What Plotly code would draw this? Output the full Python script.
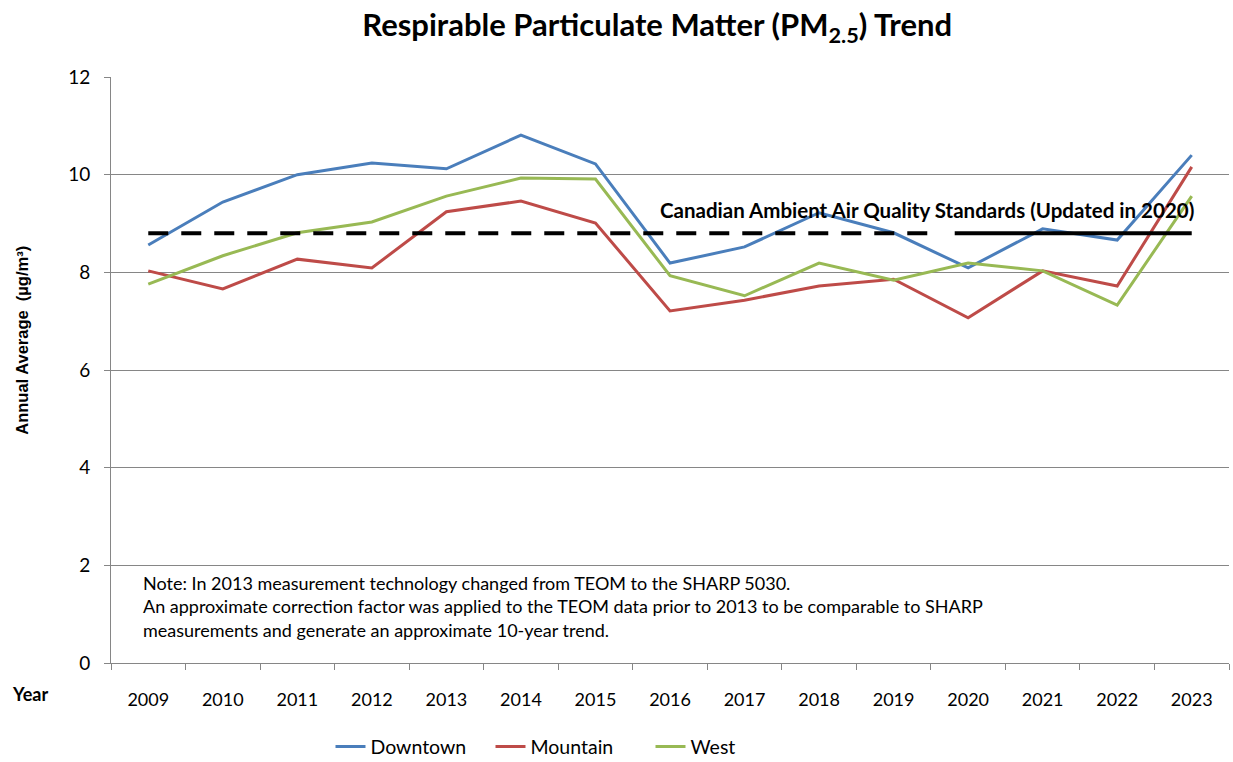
import plotly.graph_objects as go

years = list(range(2009, 2024))
downtown = [8.56, 9.44, 10.0, 10.24, 10.12, 10.81, 10.22, 8.19, 8.52, 9.22, 8.81, 8.09, 8.89, 8.66, 10.4]
mountain = [8.03, 7.66, 8.27, 8.09, 9.24, 9.46, 9.01, 7.21, 7.43, 7.72, 7.86, 7.07, 8.03, 7.72, 10.16]
west = [7.76, 8.34, 8.81, 9.03, 9.56, 9.93, 9.91, 7.93, 7.52, 8.19, 7.84, 8.19, 8.03, 7.33, 9.56]
series_names = ["Downtown", "Mountain", "West"]
series_colors = ["#4A7EBB", "#BE4B48", "#98B954"]

standard_value = 8.8
standard_dashed_x = [2009, 2019.6]
standard_solid_x = [2019.82, 2023]
standard_label = "Canadian Ambient Air Quality Standards (Updated in 2020)"
note_text = ("Note: In 2013 measurement technology changed from TEOM to the SHARP 5030.<br>"
             "An approximate correction factor was applied to the TEOM data prior to 2013 to be comparable to SHARP<br>"
             "measurements and generate an approximate 10-year trend.")

FONT = "Lato"

fig = go.Figure()
for name, vals, col in zip(series_names, [downtown, mountain, west], series_colors):
    fig.add_trace(go.Scatter(x=years, y=vals, mode="lines", name=name,
                             line=dict(color=col, width=3)))

fig.add_trace(go.Scatter(x=standard_dashed_x, y=[standard_value] * 2, mode="lines",
                         line=dict(color="black", width=4, dash="20px,13px"),
                         showlegend=False, hoverinfo="skip"))
fig.add_trace(go.Scatter(x=standard_solid_x, y=[standard_value] * 2, mode="lines",
                         line=dict(color="black", width=4),
                         showlegend=False, hoverinfo="skip"))

fig.add_annotation(x=2019.45, y=9.28, xref="x", yref="y", text="<b>" + standard_label + "</b>",
                   showarrow=False, font=dict(family=FONT, size=20.5, color="black"))
fig.add_annotation(x=2008.906, y=1.9, xref="x", yref="y", text=note_text, showarrow=False,
                   xanchor="left", yanchor="top", align="left",
                   font=dict(family=FONT, size=18, color="black"))
fig.add_annotation(x=-0.0725, y=-0.053, xref="paper", yref="paper", text="<b>Year</b>",
                   xanchor="center", yanchor="middle",
                   showarrow=False, font=dict(family=FONT, size=18, color="black"))
fig.add_annotation(x=-0.0796, y=0.55, xref="paper", yref="paper",
                   text="<b>Annual Average  (µg/m³)</b>", textangle=-90,
                   xanchor="center", yanchor="middle",
                   showarrow=False, font=dict(family="Liberation Sans", size=16.5, color="black"))

minor_vals = [y - 0.5 for y in years] + [years[-1] + 0.5]

fig.update_layout(
    width=1233, height=762,
    margin=dict(l=111, r=4, t=77, b=99, autoexpand=False),
    paper_bgcolor="white", plot_bgcolor="white",
    font=dict(family=FONT, size=18, color="black"),
    title=dict(text="<b>Respirable Particulate Matter (PM<sub>2.5</sub>) Trend</b>",
               x=0.533, xanchor="center", y=0.967, yanchor="middle",
               font=dict(family=FONT, size=31, color="black")),
    showlegend=True,
    legend=dict(orientation="h", x=0.411, xanchor="center", y=-0.143, yanchor="middle",
                entrywidth=115, entrywidthmode="pixels",
                font=dict(family=FONT, size=19.5, color="black"), bgcolor="rgba(0,0,0,0)"),
    xaxis=dict(range=[2008.5, 2023.5], tickvals=years, ticktext=[str(y) for y in years],
               showgrid=False, zeroline=False, showline=True, linecolor="#868686", linewidth=1,
               ticks="", ticklabelstandoff=20,
               minor=dict(tickvals=minor_vals, ticks="outside", ticklen=6, tickcolor="#868686",
                          showgrid=False),
               tickfont=dict(family=FONT, size=18)),
    yaxis=dict(range=[0, 12], dtick=2, showgrid=True, gridcolor="#868686", gridwidth=1,
               zeroline=False, showline=True, linecolor="#868686", linewidth=1,
               ticks="outside", ticklen=6, tickcolor="#868686", ticklabelstandoff=10,
               tickfont=dict(family=FONT, size=19)),
)

fig.write_html("out.html", config={"displayModeBar": False},
               post_script="document.body.style.margin='0';")
